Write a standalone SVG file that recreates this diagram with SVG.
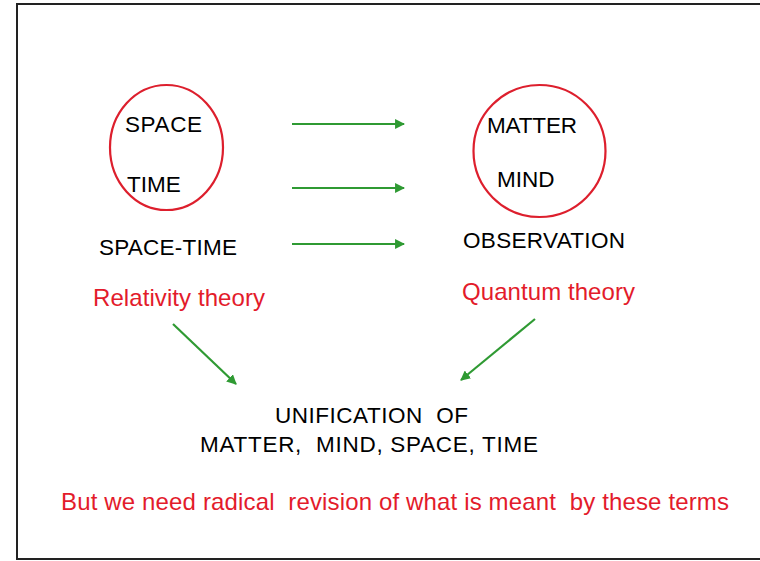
<svg xmlns="http://www.w3.org/2000/svg" width="760" height="561" viewBox="0 0 760 561">
<style>
.t{font-family:"Liberation Sans",Arial,sans-serif;font-size:22.5px;fill:#000}
.r{font-family:"Liberation Sans",Arial,sans-serif;font-size:24px;fill:#e31b2b}
.c{fill:none;stroke:#dd1f2d;stroke-width:2.2}
.a{stroke:#2f9a33;stroke-width:2.2;fill:none;marker-end:url(#ah)}
</style>
<defs>
<marker id="ah" viewBox="0 0 10 10" refX="9" refY="5" markerWidth="4.5" markerHeight="4.5" orient="auto" markerUnits="strokeWidth">
<path d="M0,0 L10,5 L0,10 Z" fill="#2f9a33"/>
</marker>
</defs>
<rect x="0" y="0" width="760" height="561" fill="#fff"/>
<rect x="17" y="4" width="760" height="555" fill="none" stroke="#222" stroke-width="2"/>
<g id="connectors">
<line class="a" x1="292" y1="124" x2="404" y2="124"/>
<line class="a" x1="292" y1="188" x2="404" y2="188"/>
<line class="a" x1="292" y1="244" x2="404" y2="244"/>
<line class="a" x1="173" y1="324" x2="236" y2="384"/>
<line class="a" x1="535" y1="319" x2="461" y2="380"/>
</g>
<g id="space-time-circle">
<ellipse class="c" cx="166.5" cy="147.5" rx="56.5" ry="62.5"/>
<text class="t" x="125" y="132" textLength="77" lengthAdjust="spacing">SPACE</text>
<text class="t" x="127" y="192">TIME</text>
</g>
<g id="matter-mind-circle">
<ellipse class="c" cx="539.5" cy="151" rx="66" ry="66"/>
<text class="t" x="487" y="133" textLength="90" lengthAdjust="spacing">MATTER</text>
<text class="t" x="497" y="187">MIND</text>
</g>
<g id="space-time">
<text class="t" x="99" y="255" textLength="138" lengthAdjust="spacing">SPACE-TIME</text>
</g>
<g id="relativity">
<text class="r" x="93" y="306" textLength="172" lengthAdjust="spacing">Relativity theory</text>
</g>
<g id="observation">
<text class="t" x="463" y="248" textLength="162" lengthAdjust="spacing">OBSERVATION</text>
</g>
<g id="quantum">
<text class="r" x="462" y="300" textLength="173" lengthAdjust="spacing">Quantum theory</text>
</g>
<g id="unification">
<text class="t" x="275" y="423" textLength="193" lengthAdjust="spacing" xml:space="preserve">UNIFICATION  OF</text>
<text class="t" x="200" y="452" textLength="338" lengthAdjust="spacing" xml:space="preserve">MATTER,  MIND, SPACE, TIME</text>
</g>
<g id="note">
<text class="r" x="61" y="510" textLength="668" lengthAdjust="spacing" xml:space="preserve">But we need radical  revision of what is meant  by these terms</text>
</g>
</svg>
